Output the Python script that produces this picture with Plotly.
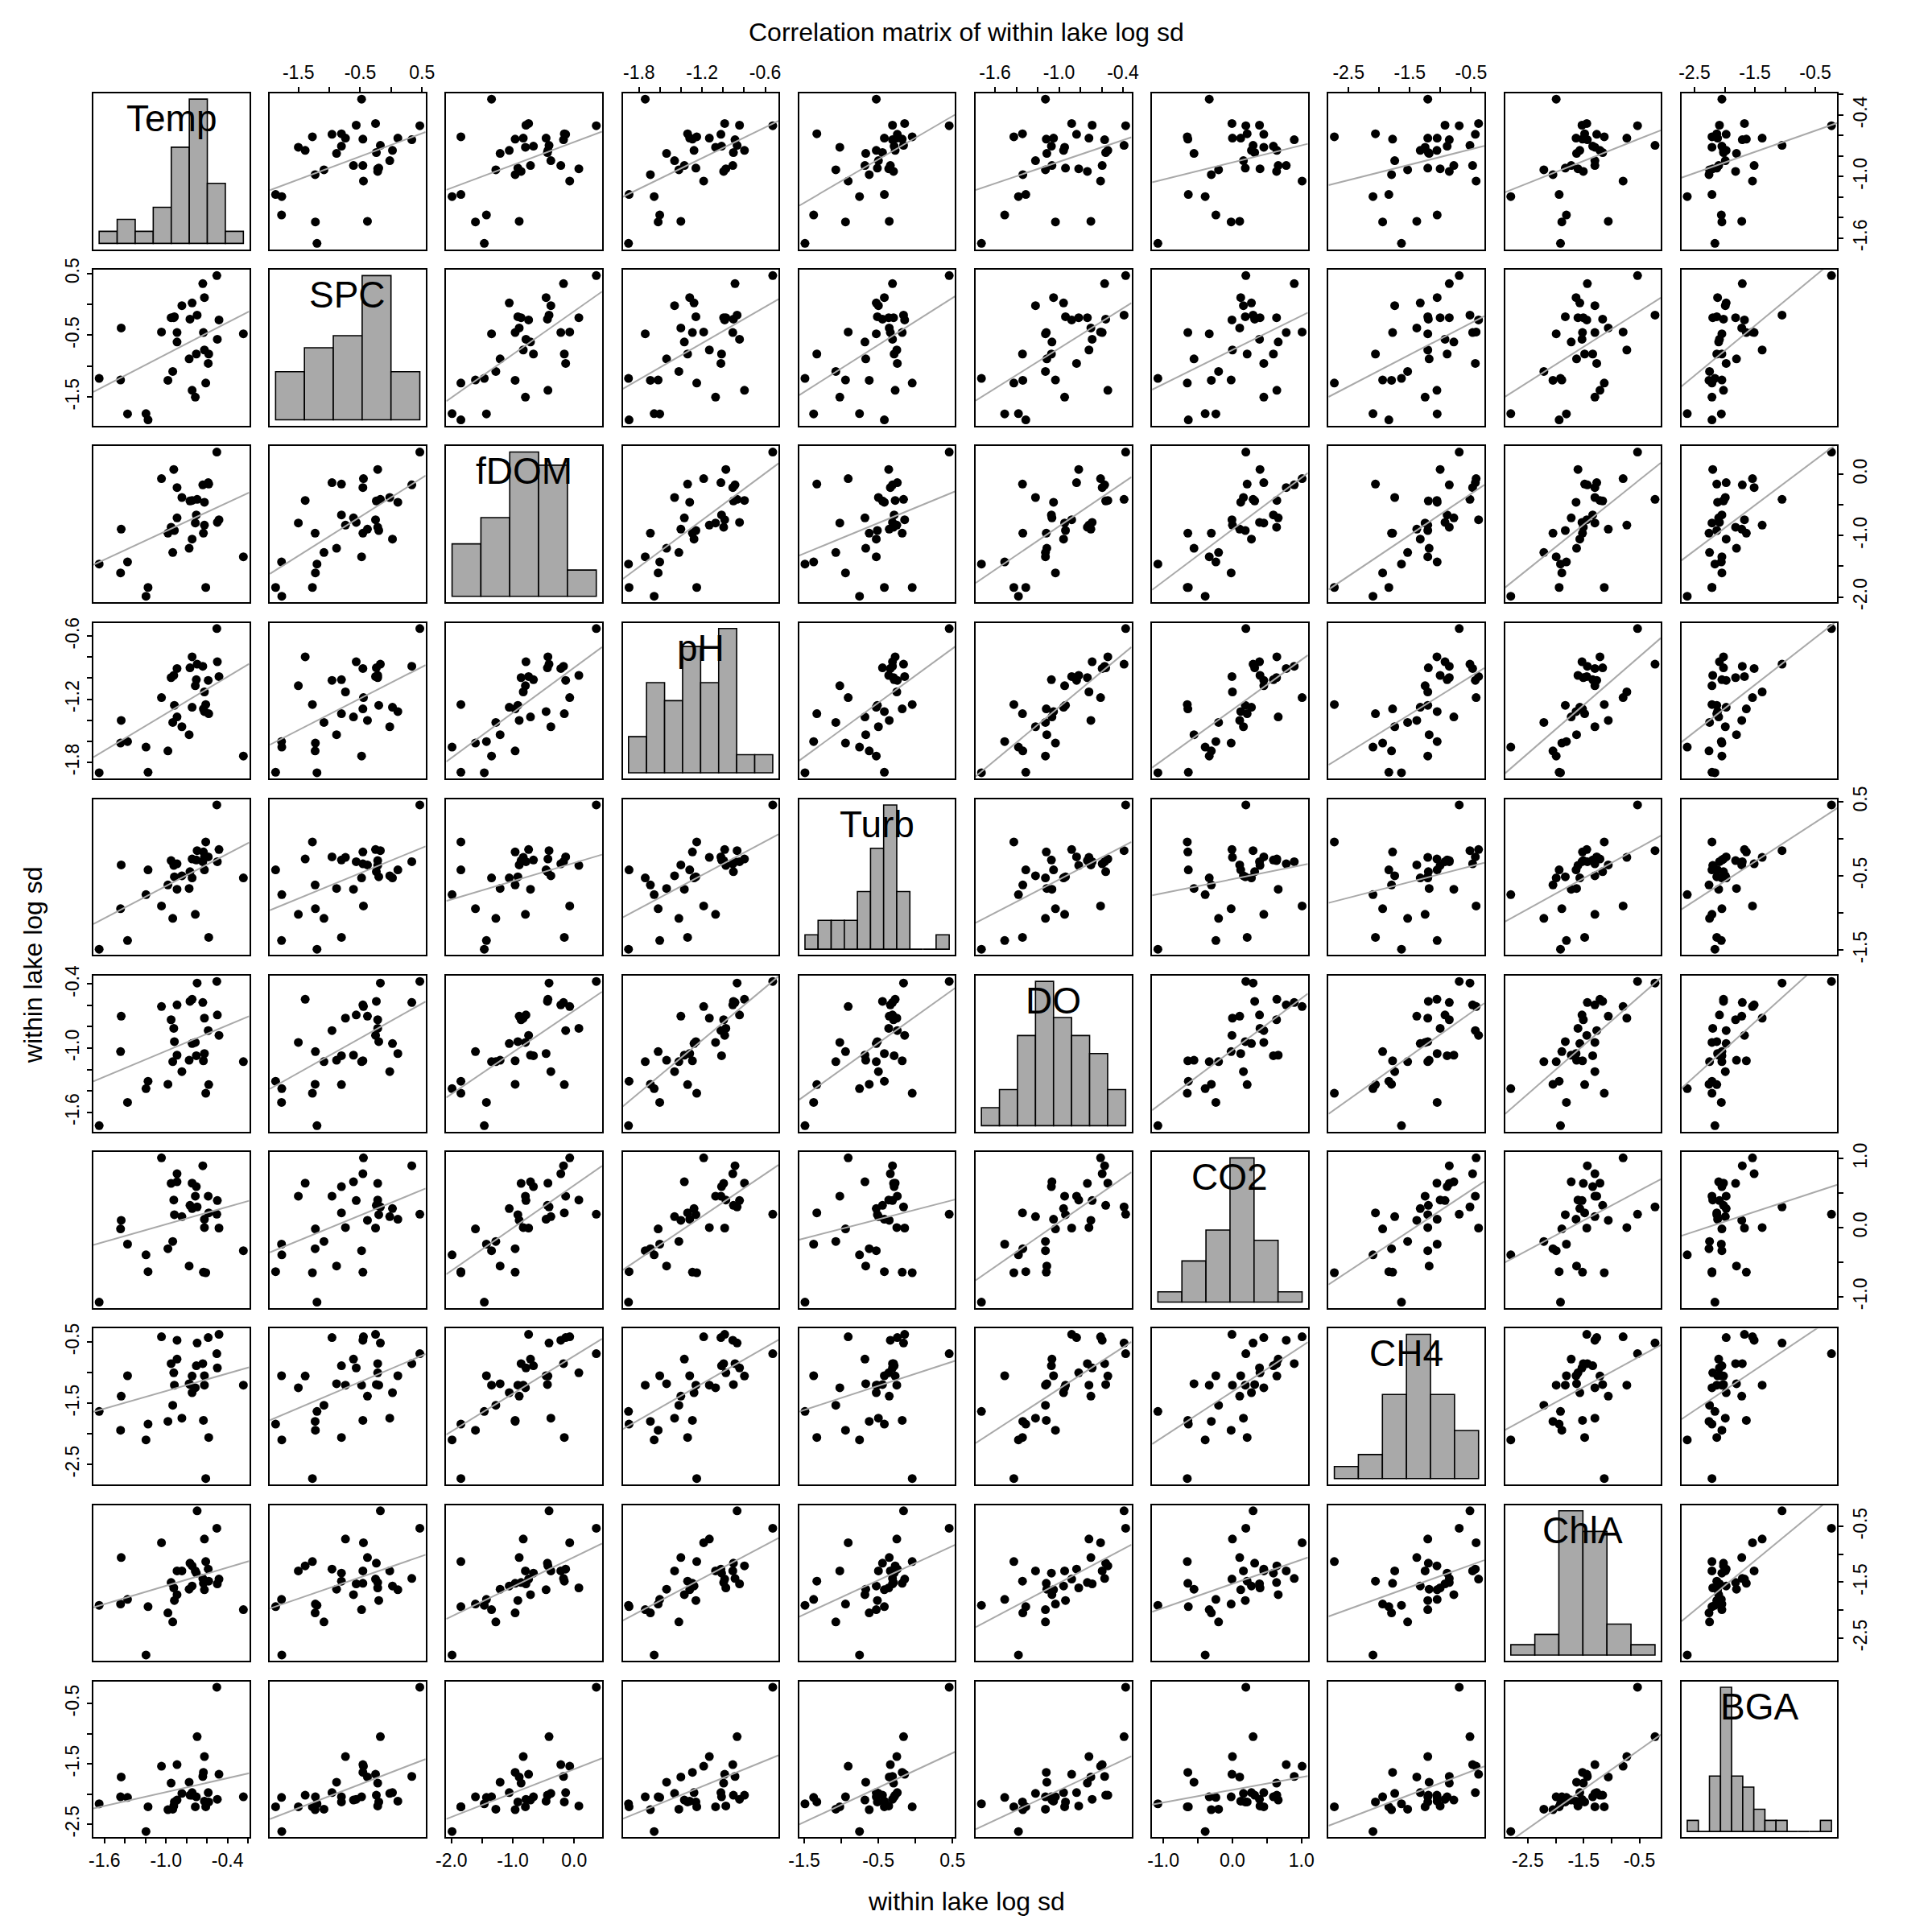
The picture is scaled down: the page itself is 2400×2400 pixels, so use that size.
import numpy as np
import plotly.graph_objects as go

# ---------------- data (within-lake log sd, one value per lake) ----------------
var_names = ["Temp", "SPC", "fDOM", "pH", "Turb", "DO", "CO2", "CH4", "ChlA", "BGA"]

temp = [-1.652, -1.443, -1.437, -1.375, -1.195, -1.175, -1.044, -0.981, -0.950, -0.934, -0.924,
        -0.892, -0.892, -0.845, -0.774, -0.766, -0.745, -0.745, -0.714, -0.704, -0.696, -0.641,
        -0.635, -0.625, -0.625, -0.612, -0.918, -0.588, -0.583, -0.504, -0.499, -0.483, -0.245]
spc = [-1.200, -1.226, -0.383, -1.774, -1.770, -1.870, -0.448, -1.230, -0.217, -1.087, -0.217,
       -0.457, -0.609, -0.022, -0.883, -0.239, 0.022, -1.391, -1.502, -0.804, -0.174, 0.335,
       -0.457, 0.109, -0.739, -1.274, -0.200, -0.957, -0.804, 0.465, -0.565, -0.252, -0.478]
fdom = [-1.465, -1.609, -0.896, -1.430, -1.990, -1.846, -0.073, -0.962, -0.865, -1.277, 0.076,
        -0.218, -0.712, -0.380, -1.207, -0.436, -1.058, -0.428, -0.795, -0.664, -0.410, -0.174,
        -0.962, -0.458, -0.830, -1.846, -0.918, -0.139, -0.161, 0.360, -0.786, -0.743, -1.347]
ph = [-1.900, -1.618, -1.402, -1.603, -1.656, -1.895, -1.185, -1.692, -0.995, -1.421, -0.974,
      -0.908, -1.369, -1.462, -1.538, -0.902, -1.277, -0.797, -1.072, -1.015, -0.867, -0.887,
      -1.292, -1.318, -1.131, -1.251, -1.259, -1.021, -1.338, -0.528, -0.844, -0.985, -1.741]
turb = [-1.490, -0.943, -0.353, -1.373, -0.754, -0.419, -0.907, -0.623, -0.295, -1.074, -0.360,
        -0.338, -0.681, -0.499, -0.670, -0.444, -0.528, -0.273, -1.020, -0.287, -0.160, -0.309,
        -0.178, -0.419, -0.251, -0.043, -0.513, -0.244, -1.330, 0.456, -0.309, -0.145, -0.528]
do_ = [-1.727, -1.033, -0.701, -1.509, -1.380, -1.311, -0.610, -1.339, -0.734, -1.127, -0.815,
       -0.595, -1.066, -1.220, -1.114, -0.562, -0.957, -0.542, -0.947, -1.071, -0.390, -0.572,
       -1.119, -1.051, -0.719, -1.423, -0.939, -0.835, -1.342, -0.375, -0.689, -0.881, -1.127]
co2 = [-1.079, -0.018, 0.106, -0.239, -0.394, -0.638, 1.010, -0.305, 0.640, -0.200, 0.400,
       0.780, 0.664, 0.160, -0.556, 0.323, 0.276, 0.644, 0.455, 0.594, 0.300, 0.896,
       -0.645, 0.121, 0.001, -0.653, 0.187, 0.455, 0.214, 0.195, 0.393, -0.006, -0.335]
ch4 = [-1.636, -1.943, -1.386, -1.053, -2.101, -1.842, -0.417, -1.798, -0.855, -1.535, -1.004,
       -0.474, -0.781, -1.746, -1.184, -1.197, -1.329, -1.057, -1.250, -0.890, -0.518, -0.855,
       -1.781, -1.053, -1.206, -2.732, -1.206, -0.430, -2.061, -0.693, -0.925, -0.377, -1.206]
chla = [-1.914, -1.890, -1.058, -1.808, -2.804, -1.938, -0.793, -2.049, -1.505, -2.212, -1.601,
        -1.298, -1.722, -1.298, -1.626, -1.159, -1.568, -1.207, -1.298, -1.337, -0.221, -1.433,
        -1.520, -1.635, -0.726, -1.130, -1.828, -1.265, -1.481, -0.534, -1.529, -1.443, -1.991]
bga = [-2.162, -2.047, -1.718, -2.056, -2.620, -2.211, -1.540, -2.260, -1.820, -2.251, -2.198,
       -1.513, -2.100, -1.990, -1.805, -2.020, -1.976, -2.020, -2.211, -2.047, -1.051, -1.709,
       -1.642, -2.118, -1.380, -2.211, -2.131, -1.976, -2.131, -0.233, -2.087, -1.673, -2.047]

series = [temp, spc, fdom, ph, turb, do_, co2, ch4, chla, bga]

# axis ticks (all tick marks) and the subset that carries labels
tick_vals = [
    [-1.6, -1.4, -1.2, -1.0, -0.8, -0.6, -0.4, -0.2],
    [-1.5, -1.0, -0.5, 0.0, 0.5],
    [-2.0, -1.5, -1.0, -0.5, 0.0],
    [-1.8, -1.6, -1.4, -1.2, -1.0, -0.8, -0.6],
    [-1.5, -1.0, -0.5, 0.0, 0.5],
    [-1.6, -1.4, -1.2, -1.0, -0.8, -0.6, -0.4],
    [-1.0, -0.5, 0.0, 0.5, 1.0],
    [-2.5, -2.0, -1.5, -1.0, -0.5],
    [-2.5, -2.0, -1.5, -1.0, -0.5],
    [-2.5, -2.0, -1.5, -1.0, -0.5],
]
tick_labels = [
    ["-1.6", "", "", "-1.0", "", "", "-0.4", ""],
    ["-1.5", "", "-0.5", "", "0.5"],
    ["-2.0", "", "-1.0", "", "0.0"],
    ["-1.8", "", "", "-1.2", "", "", "-0.6"],
    ["-1.5", "", "-0.5", "", "0.5"],
    ["-1.6", "", "", "-1.0", "", "", "-0.4"],
    ["-1.0", "", "0.0", "", "1.0"],
    ["-2.5", "", "-1.5", "", "-0.5"],
    ["-2.5", "", "-1.5", "", "-0.5"],
    ["-2.5", "", "-1.5", "", "-0.5"],
]
# histogram break settings (start, end, width) for the diagonal panels
hist_breaks = [
    (-1.8, -0.2, 0.2), (-2.0, 0.5, 0.5), (-2.0, 0.5, 0.5), (-2.0, -0.4, 0.2), (-1.6, 0.6, 0.2),
    (-1.8, -0.2, 0.2), (-1.5, 1.5, 0.5), (-3.0, 0.0, 0.5), (-3.0, 0.0, 0.5), (-2.8, -0.2, 0.2),
]

# ---------------- layout geometry (pixels) ----------------
W = 2400
LEFT0, TOP0, PITCH, SIZE = 116.0, 116.0, 219.2, 193.5
FONT = "Liberation Sans, Arial, sans-serif"
TICKFONT = 23
GRAY = "#A9A9A9"

n = len(var_names)
fig = go.Figure()
layout = dict(template="none", width=W, height=W, margin=dict(l=0, r=0, t=0, b=0, pad=0),
              paper_bgcolor="white", plot_bgcolor="white", showlegend=False,
              font=dict(family=FONT, color="black"))
annotations = []


def padded(lo, hi):
    d = hi - lo
    return [lo - 0.04 * d, hi + 0.04 * d]


ranges = [padded(min(s), max(s)) for s in series]

for r in range(n):
    for c in range(n):
        k = r * n + c + 1
        xname = "xaxis" if k == 1 else f"xaxis{k}"
        yname = "yaxis" if k == 1 else f"yaxis{k}"
        xref = "x" if k == 1 else f"x{k}"
        yref = "y" if k == 1 else f"y{k}"
        x0 = (LEFT0 + c * PITCH) / W
        x1 = x0 + SIZE / W
        y1 = 1 - (TOP0 + r * PITCH) / W
        y0 = y1 - SIZE / W
        xa = dict(domain=[x0, x1], anchor=yref, showgrid=False, zeroline=False, automargin=False,
                  showline=True, mirror=True, linecolor="black", linewidth=1.6,
                  ticks="", showticklabels=False, fixedrange=True)
        ya = dict(domain=[y0, y1], anchor=xref, showgrid=False, zeroline=False, automargin=False,
                  showline=True, mirror=True, linecolor="black", linewidth=1.6,
                  ticks="", showticklabels=False, fixedrange=True)
        if r == c:
            b0, b1, bw = hist_breaks[c]
            breaks = np.arange(b0, b1 + bw / 2, bw)
            vals = np.asarray(series[c])
            idx = np.clip(np.searchsorted(breaks, vals, side="left") - 1, 0, len(breaks) - 2)
            counts = np.bincount(idx, minlength=len(breaks) - 1)
            mids = (breaks[:-1] + breaks[1:]) / 2
            fig.add_trace(go.Bar(x=mids, y=counts, width=bw, xaxis=xref, yaxis=yref,
                                 marker=dict(color=GRAY, line=dict(color="black", width=1.6)),
                                 hoverinfo="skip"))
            xa["range"] = padded(breaks[0], breaks[-1])
            ya["range"] = padded(0, counts.max())
            annotations.append(dict(text=var_names[c], xref=f"{xref} domain", yref=f"{yref} domain",
                                    x=0.5, y=0.84, showarrow=False, xanchor="center",
                                    yanchor="middle", font=dict(size=46, family=FONT)))
        else:
            xv = np.asarray(series[c])
            yv = np.asarray(series[r])
            fig.add_trace(go.Scatter(x=xv, y=yv, mode="markers", xaxis=xref, yaxis=yref,
                                     marker=dict(color="black", size=11, line=dict(width=0)),
                                     hoverinfo="skip"))
            slope, icpt = np.polyfit(xv, yv, 1)
            lx = np.array(ranges[c])
            fig.add_trace(go.Scatter(x=lx, y=icpt + slope * lx, mode="lines", xaxis=xref,
                                     yaxis=yref, line=dict(color=GRAY, width=2),
                                     hoverinfo="skip"))
            xa["range"] = ranges[c]
            ya["range"] = ranges[r]
            tickcommon = dict(ticks="outside", ticklen=6, tickwidth=1.5, tickcolor="black",
                              showticklabels=True, tickfont=dict(size=TICKFONT, family=FONT),
                              ticklabelstandoff=1)
            if r == 0 and c % 2 == 1:
                xa.update(tickcommon, side="top", tickvals=tick_vals[c], ticktext=tick_labels[c])
            if r == n - 1 and c % 2 == 0:
                xa.update(tickcommon, side="bottom", tickvals=tick_vals[c], ticktext=tick_labels[c])
            if c == 0 and r % 2 == 1:
                ya.update(tickcommon, side="left", tickvals=tick_vals[r], ticktext=tick_labels[r],
                          tickangle=-90)
            if c == n - 1 and r % 2 == 0:
                ya.update(tickcommon, side="right", tickvals=tick_vals[r], ticktext=tick_labels[r],
                          tickangle=-90)
        layout[xname] = xa
        layout[yname] = ya

annotations.append(dict(text="Correlation matrix of within lake log sd", xref="paper", yref="paper",
                        x=0.5, y=1 - 40 / W, showarrow=False, xanchor="center", yanchor="middle",
                        font=dict(size=32, family=FONT)))
annotations.append(dict(text="within lake log sd", xref="paper", yref="paper",
                        x=0.5, y=1 - 2362 / W, showarrow=False, xanchor="center", yanchor="middle",
                        font=dict(size=32, family=FONT)))
annotations.append(dict(text="within lake log sd", xref="paper", yref="paper",
                        x=41 / W, y=1 - (TOP0 + 4.5 * PITCH + SIZE / 2) / W, showarrow=False,
                        xanchor="center", yanchor="middle", textangle=-90,
                        font=dict(size=32, family=FONT)))
layout["annotations"] = annotations
fig.update_layout(**layout)
fig.write_html("out.html")
